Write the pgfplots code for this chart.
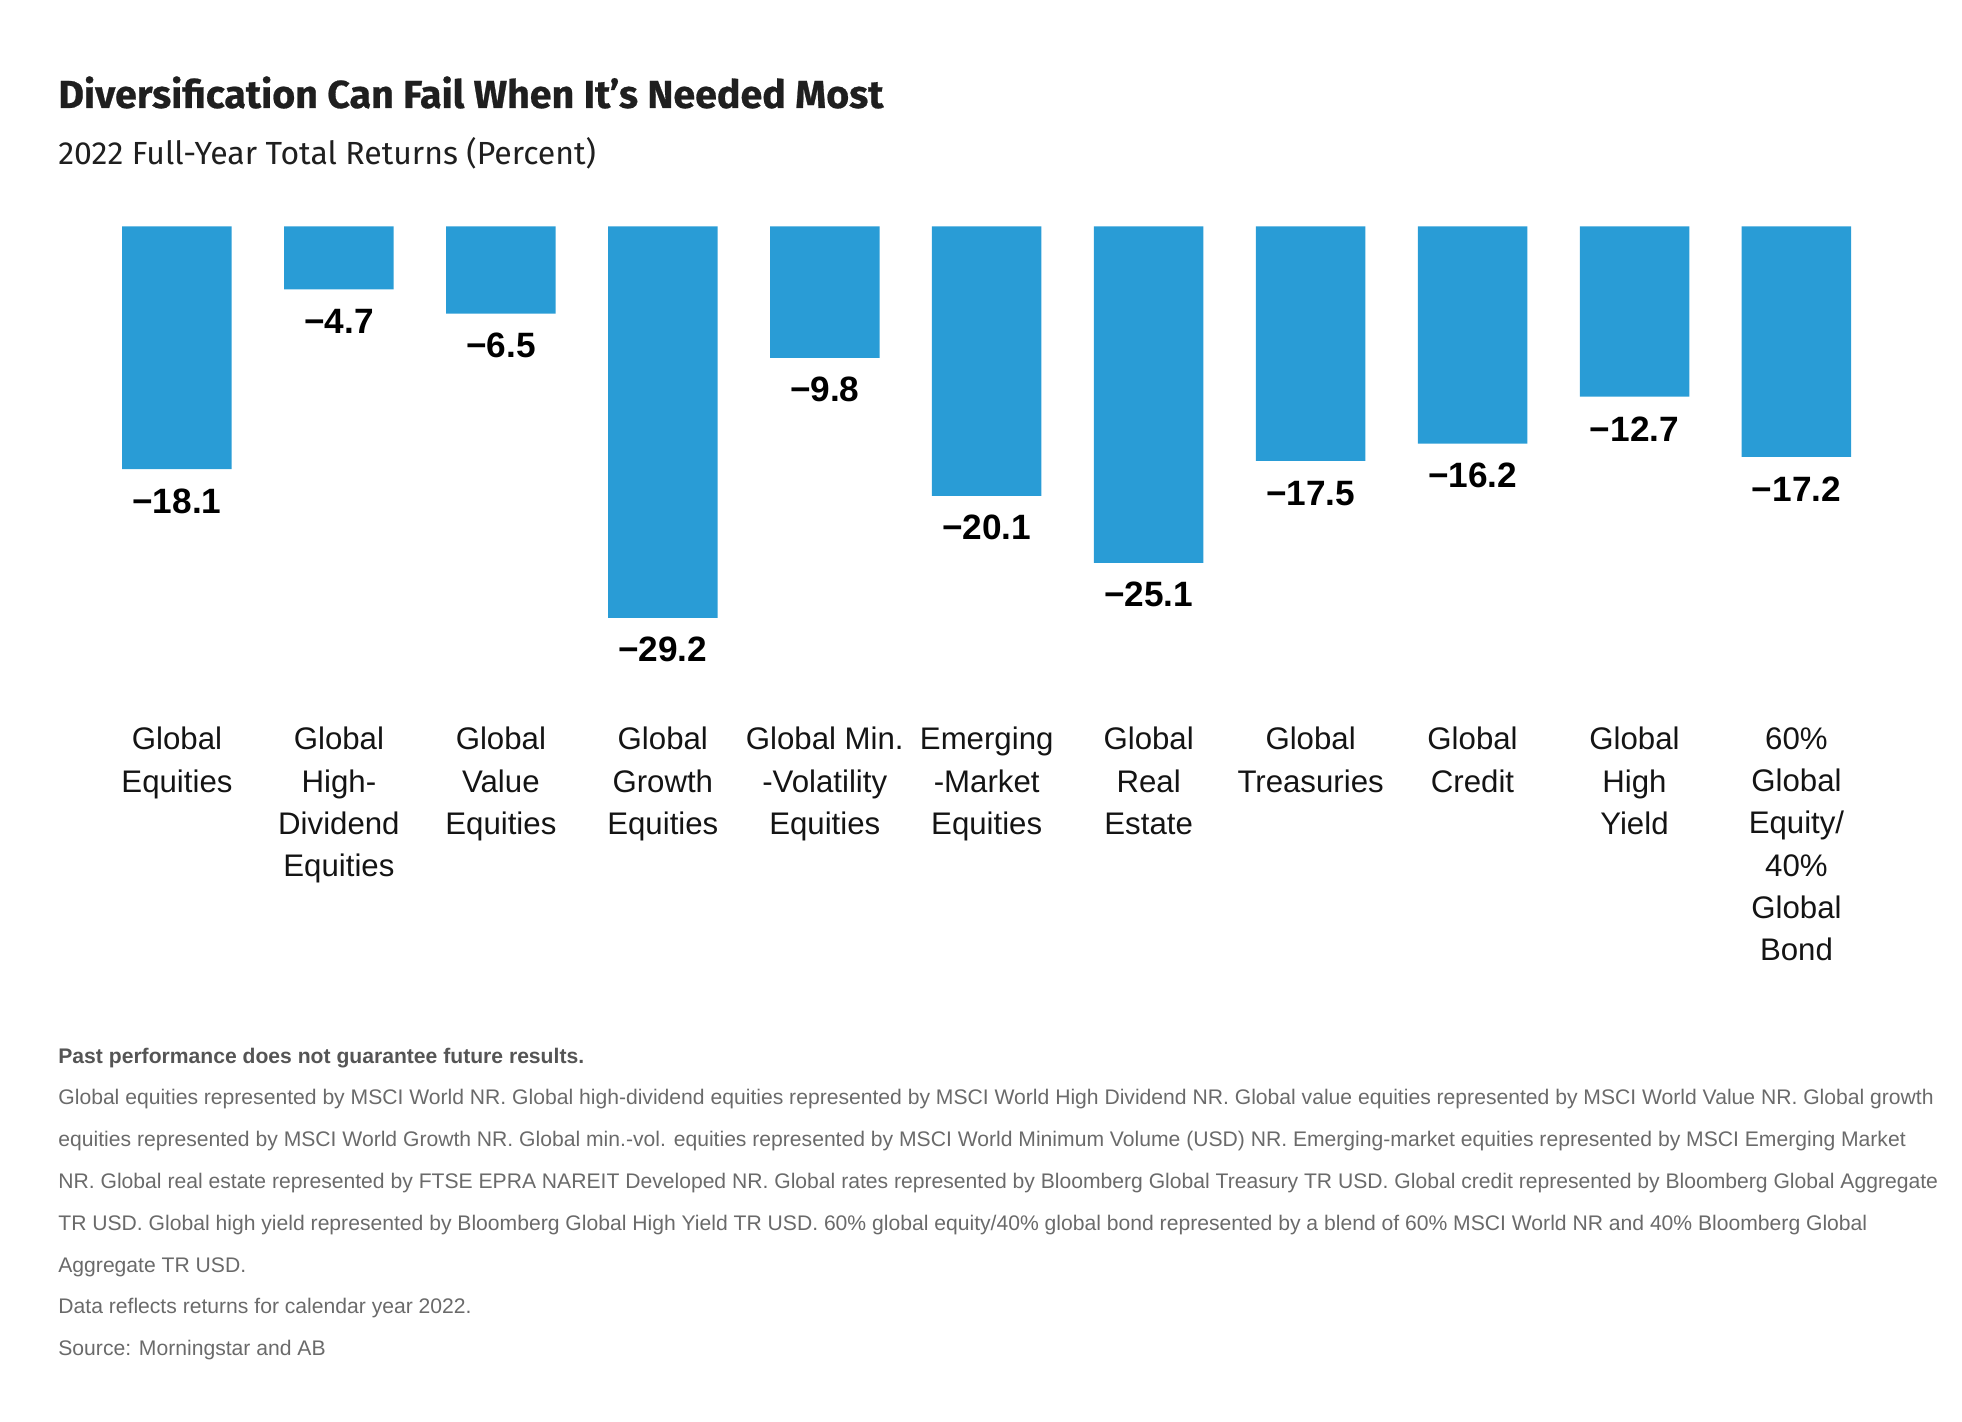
\documentclass[border=0pt]{standalone}
\usepackage{fontspec}
\usepackage{pgfplots}
\pgfplotsset{compat=1.18}
\setmainfont{Liberation Sans}
\newfontfamily\titlefont[FakeStretch=1.01, FakeBold=0.6]{Fira Sans}
\newfontfamily\subfont{Fira Sans}
\definecolor{barblue}{HTML}{299CD6}
\definecolor{notegray}{HTML}{6A6A6A}
\definecolor{notebold}{HTML}{555555}

\begin{document}
\begin{tikzpicture}
\path[use as bounding box] (0,0) rectangle (981pt,711pt);

% title and subtitle
\node[anchor=base west, inner sep=0pt, text=black!88] at (29pt,657pt)
  {\titlefont\bfseries\fontsize{19.5}{22}\selectfont Diversification Can Fail When It’s Needed Most};
\node[anchor=base west, inner sep=0pt, text=black!88] at (29pt,628.5pt)
  {\subfont\fontsize{16}{19}\selectfont 2022 Full-Year Total Returns (Percent)};

\begin{axis}[
    at={(48pt,396.75pt)}, anchor=south west,
    scale only axis,
    width=890.7pt, height=201pt,
    xmin=-0.5, xmax=10.5,
    ymin=-30, ymax=0,
    axis line style={draw=none},
    tick style={draw=none},
    major tick length=0pt,
    ytick=\empty,
    xtick={0,...,10},
    xticklabels={
      {Global\\Equities},
      {Global\\High-\\Dividend\\Equities},
      {Global\\Value\\Equities},
      {Global\\Growth\\Equities},
      {Global Min.\\-Volatility\\Equities},
      {Emerging\\-Market\\Equities},
      {Global\\Real\\Estate},
      {Global\\Treasuries},
      {Global\\Credit},
      {Global\\High\\Yield},
      {60\%\\Global\\Equity/\\40\%\\Global\\Bond}},
    xticklabel style={align=center, anchor=north, inner sep=0pt, yshift=-49.25pt,
      font=\fontsize{15.6}{21.15}\selectfont, text=black!92},
    clip=false,
    ybar, bar width=54.75pt,
    point meta=explicit symbolic,
    nodes near coords,
    every node near coord/.append style={font=\bfseries\fontsize{17.6}{20}\selectfont,
      inner sep=0pt, yshift=-22.4pt, text=black},
]
\addplot[fill=barblue, draw=none] coordinates {
  (0,-18.1) [−18.1]
  (1,-4.7)  [−4.7]
  (2,-6.5)  [−6.5]
  (3,-29.2) [−29.2]
  (4,-9.8)  [−9.8]
  (5,-20.1) [−20.1]
  (6,-25.1) [−25.1]
  (7,-17.5) [−17.5]
  (8,-16.2) [−16.2]
  (9,-12.7) [−12.7]
  (10,-17.2) [−17.2]
};
\end{axis}

% footnotes
\begin{scope}[every node/.style={anchor=base west, inner sep=0pt, text=notegray,
    font=\fontsize{10.56}{12}\selectfont}]
\node[text=notebold, font=\bfseries\fontsize{10.56}{12}\selectfont] at (29pt,179.25pt) {Past performance does not guarantee future results.};
\node at (29pt,158.75pt) {Global equities represented by MSCI World NR. Global high-dividend equities represented by MSCI World High Dividend NR. Global value equities represented by MSCI World Value NR. Global growth};
\node at (29pt,137.75pt) {equities represented by MSCI World Growth NR. Global min.-vol. equities represented by MSCI World Minimum Volume (USD) NR. Emerging-market equities represented by MSCI Emerging Market};
\node at (29pt,116.75pt) {NR. Global real estate represented by FTSE EPRA NAREIT Developed NR. Global rates represented by Bloomberg Global Treasury TR USD. Global credit represented by Bloomberg Global Aggregate};
\node at (29pt,95.75pt) {TR USD. Global high yield represented by Bloomberg Global High Yield TR USD. 60\% global equity/40\% global bond represented by a blend of 60\% MSCI World NR and 40\% Bloomberg Global};
\node at (29pt,74.75pt) {Aggregate TR USD.};
\node at (29pt,54.25pt) {Data reflects returns for calendar year 2022.};
\node at (29pt,33.25pt) {Source: Morningstar and AB};
\end{scope}
\end{tikzpicture}
\end{document}
